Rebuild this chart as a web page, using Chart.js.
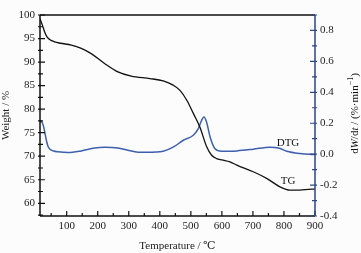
<!DOCTYPE html>
<html>
<head>
<meta charset="utf-8">
<script src="https://cdn.jsdelivr.net/npm/chart.js@4.4.1/dist/chart.umd.min.js"></script>
<style>
  html, body { margin: 0; padding: 0; background: #fcfcfc; }
  #wrap { width: 361px; height: 253px; }
</style>
</head>
<body>
<div id="wrap"><canvas id="tgChart"></canvas></div>
<script>
// TG curve: temperature (°C) and remaining weight (%)
const tgTemp   = [14, 22, 29, 36, 45, 61, 80, 115, 147, 179, 222, 265, 308, 368, 411, 443, 465, 487, 508, 529, 551, 567, 583, 600, 626, 648, 701, 744, 787, 819, 850, 889, 900];
const tgWeight = [99.2, 97.8, 96.4, 95.4, 94.8, 94.3, 94.0, 93.6, 92.9, 91.8, 89.7, 87.9, 87.0, 86.5, 86.0, 85.1, 84.0, 81.9, 79.1, 76.2, 72.0, 70.2, 69.5, 69.2, 68.8, 68.1, 66.7, 65.3, 63.5, 62.8, 62.8, 63.0, 63.0];

// DTG curve: temperature (°C) and dW/dt (%/min)
const dtgTemp = [14, 18, 22, 26, 30, 35, 40, 46, 58, 72, 104, 147, 190, 222, 265, 297, 330, 358, 411, 443, 476, 508, 524, 535, 542, 551, 562, 578, 599, 626, 648, 701, 755, 782, 809, 852, 889, 900];
const dtgRate = [0.205, 0.215, 0.20, 0.175, 0.135, 0.085, 0.05, 0.032, 0.02, 0.015, 0.01, 0.021, 0.04, 0.045, 0.04, 0.025, 0.013, 0.012, 0.019, 0.045, 0.09, 0.122, 0.165, 0.22, 0.24, 0.205, 0.111, 0.035, 0.019, 0.019, 0.021, 0.032, 0.045, 0.04, 0.019, 0.004, -0.002, -0.003];

const tempTicks   = [100, 200, 300, 400, 500, 600, 700, 800, 900];
const weightTicks = [60, 65, 70, 75, 80, 85, 90, 95, 100];
const rateTicks   = [-0.4, -0.2, 0.0, 0.2, 0.4, 0.6, 0.8];

const serif = "'Liberation Serif', 'DejaVu Serif', serif";
const blue = "#3c5fae";
const axisBlue = "#2c4785";

function pts(xs, ys) {
  return xs.map((x, i) => ({ x: x, y: ys[i] }));
}

// inward tick marks, frame and curve labels
const framePlugin = {
  id: "frame",
  afterDatasetsDraw(chart) {
    const { ctx, chartArea: a, scales } = chart;
    const x = scales.x, yl = scales.y, yr = scales.y2;
    ctx.save();
    ctx.lineWidth = 1.5;
    ctx.strokeStyle = "#111";
    ctx.beginPath();
    ctx.moveTo(a.left, a.top); ctx.lineTo(a.right, a.top);
    ctx.moveTo(a.left, a.top); ctx.lineTo(a.left, a.bottom);
    ctx.moveTo(a.left, a.bottom); ctx.lineTo(a.right, a.bottom);
    ctx.stroke();
    ctx.lineWidth = 1.2;
    ctx.beginPath();
    for (let v = 50; v <= 900; v += 50) {
      if (v < x.min) continue;
      const px = x.getPixelForValue(v);
      const len = v % 100 === 0 ? 5 : 3;
      ctx.moveTo(px, a.bottom); ctx.lineTo(px, a.bottom - len);
    }
    for (let v = 57.5; v <= 100; v += 2.5) {
      const py = yl.getPixelForValue(v);
      const len = v % 5 === 0 ? 5 : 3;
      ctx.moveTo(a.left - 2, py); ctx.lineTo(a.left + len, py);
    }
    ctx.stroke();
    ctx.strokeStyle = axisBlue;
    ctx.lineWidth = 1.5;
    ctx.beginPath();
    ctx.moveTo(a.right, a.top); ctx.lineTo(a.right, a.bottom);
    ctx.stroke();
    ctx.lineWidth = 1.2;
    ctx.beginPath();
    for (let v = -0.4; v <= 0.9; v += 0.1) {
      const vv = Math.round(v * 10) / 10;
      const py = yr.getPixelForValue(vv);
      const len = Math.round(vv * 10) % 2 === 0 ? 5 : 3;
      ctx.moveTo(a.right + 2, py); ctx.lineTo(a.right - len, py);
    }
    ctx.stroke();

    // curve labels
    ctx.fillStyle = "#111";
    ctx.font = "11px " + serif;
    ctx.textAlign = "center";
    ctx.textBaseline = "middle";
    ctx.fillText("DTG", x.getPixelForValue(813), yr.getPixelForValue(0.07));
    ctx.fillText("TG", x.getPixelForValue(813), yl.getPixelForValue(64.7));

    // right axis title with italic symbols
    const parts = [
      ["d", "11px"], ["W", "italic 11px"], ["/d", "11px"], ["t", "italic 11px"],
      [" / (%\u00b7min", "11px"], ["\u22121", "8px", -4], [")", "11px"]
    ];
    let total = 0;
    parts.forEach(p => { ctx.font = p[1] + " " + serif; total += ctx.measureText(p[0]).width; });
    ctx.translate(355, (a.top + a.bottom) / 2 - 2);
    ctx.rotate(-Math.PI / 2);
    ctx.textAlign = "left";
    let cx = -total / 2;
    parts.forEach(p => {
      ctx.font = p[1] + " " + serif;
      ctx.fillText(p[0], cx, p[2] || 0);
      cx += ctx.measureText(p[0]).width;
    });
    ctx.restore();
  }
};

new Chart(document.getElementById("tgChart"), {
  type: "line",
  data: {
    datasets: [
      {
        label: "TG",
        data: pts(tgTemp, tgWeight),
        yAxisID: "y",
        borderColor: "#111",
        borderWidth: 1.3,
        pointRadius: 0,
        tension: 0.4,
        cubicInterpolationMode: "monotone"
      },
      {
        label: "DTG",
        data: pts(dtgTemp, dtgRate),
        yAxisID: "y2",
        borderColor: blue,
        borderWidth: 1.5,
        pointRadius: 0,
        tension: 0.4,
        cubicInterpolationMode: "monotone"
      }
    ]
  },
  options: {
    responsive: true,
    maintainAspectRatio: false,
    animation: false,
    layout: { padding: { top: 15, left: 0, right: 0, bottom: 0 } },
    plugins: {
      legend: { display: false },
      tooltip: { enabled: false }
    },
    scales: {
      x: {
        type: "linear",
        min: 14,
        max: 900,
        afterBuildTicks: s => { s.ticks = tempTicks.map(v => ({ value: v })); },
        afterFit: s => { s.height = 37; },
        grid: { display: false, drawTicks: false },
        border: { display: false },
        ticks: { color: "#222", font: { family: serif, size: 11 }, padding: 4, maxRotation: 0 },
        title: { display: true, text: "Temperature / \u2103", color: "#222", font: { family: serif, size: 11 }, padding: { top: 1, bottom: 0 } }
      },
      y: {
        position: "left",
        min: 57.3,
        max: 100,
        afterBuildTicks: s => { s.ticks = weightTicks.map(v => ({ value: v })); },
        afterFit: s => { s.width = 40; },
        grid: { display: false, drawTicks: false },
        border: { display: false },
        ticks: { color: "#222", font: { family: serif, size: 11 }, padding: 5 },
        title: { display: true, text: "Weight / %", color: "#222", font: { family: serif, size: 11 }, padding: { top: 0, bottom: 2 } }
      },
      y2: {
        position: "right",
        min: -0.4,
        max: 0.9,
        afterBuildTicks: s => { s.ticks = rateTicks.map(v => ({ value: v })); },
        afterFit: s => { s.width = 46; },
        grid: { display: false, drawTicks: false },
        border: { display: false },
        ticks: { color: "#222", font: { family: serif, size: 11 }, padding: 5, callback: v => v.toFixed(1) }
      }
    }
  },
  plugins: [framePlugin]
});
</script>
</body>
</html>
